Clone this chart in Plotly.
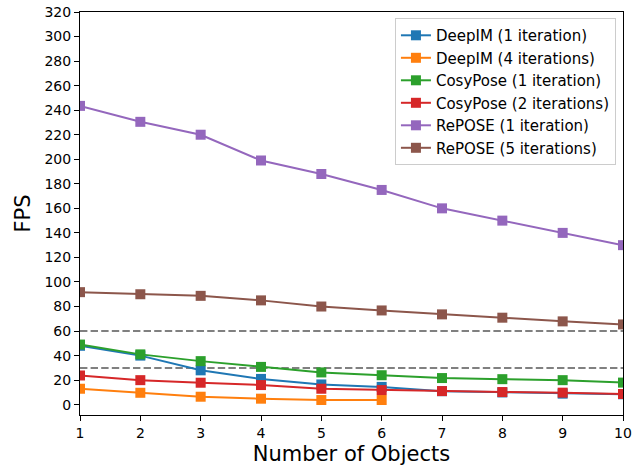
import plotly.graph_objects as go

objects = [1, 2, 3, 4, 5, 6, 7, 8, 9, 10]
deepim_1 = [48, 40, 28, 21, 16.5, 14.5, 11, 10, 9, 8.5]
deepim_4 = [13, 9.7, 6.5, 4.9, 3.8, 3.8]
cosypose_1 = [49, 41, 35.5, 30.8, 26.3, 24, 21.7, 20.8, 20, 18]
cosypose_2 = [23.8, 20, 17.9, 16, 13, 11.9, 11.1, 10.3, 9.8, 8.7]
repose_1 = [243.5, 230.5, 220, 199, 188, 175, 160, 150, 140, 130]
repose_5 = [91.7, 90, 88.7, 85, 80, 76.8, 73.6, 70.9, 67.9, 65.4]
ref_lines = [60, 30]

series = [
    ("DeepIM (1 iteration)", objects, deepim_1, "#1f77b4"),
    ("DeepIM (4 iterations)", objects[:len(deepim_4)], deepim_4, "#ff7f0e"),
    ("CosyPose (1 iteration)", objects, cosypose_1, "#2ca02c"),
    ("CosyPose (2 iterations)", objects, cosypose_2, "#d62728"),
    ("RePOSE (1 iteration)", objects, repose_1, "#9467bd"),
    ("RePOSE (5 iterations)", objects, repose_5, "#8c564b"),
]

fig = go.Figure()
for v in ref_lines:
    fig.add_trace(go.Scatter(x=[objects[0], objects[-1]], y=[v, v], mode="lines",
                             line=dict(color="#808080", width=2, dash="7.4px,3.2px"),
                             showlegend=False, hoverinfo="skip"))
for name, xs, ys, color in series:
    fig.add_trace(go.Scatter(x=xs, y=ys, mode="lines+markers", name=name,
                             line=dict(color=color, width=2),
                             marker=dict(symbol="square", size=10, color=color)))

axis_common = dict(showline=True, linecolor="black", linewidth=1, mirror=True,
                   ticks="outside", ticklen=5, tickwidth=1, tickcolor="black",
                   showgrid=False, zeroline=False, automargin=False,
                   tickfont=dict(family="DejaVu Sans", size=14, color="black"))

fig.update_xaxes(range=[1, 10], tickvals=objects, **axis_common,
                 title=dict(text="Number of Objects",
                            font=dict(family="DejaVu Sans", size=21, color="black"),
                            standoff=6))
fig.update_yaxes(range=[-8.4, 320], tickvals=list(range(0, 321, 20)), **axis_common,
                 title=dict(text="FPS",
                            font=dict(family="DejaVu Sans", size=21, color="black"),
                            standoff=8))

fig.update_layout(
    width=640, height=470,
    margin=dict(l=80, r=17, t=12, b=55),
    plot_bgcolor="white", paper_bgcolor="white",
    font=dict(family="DejaVu Sans", color="black"),
    legend=dict(x=0.987, y=0.985, xanchor="right", yanchor="top",
                bgcolor="white", bordercolor="#cccccc", borderwidth=1,
                font=dict(family="DejaVu Sans", size=15, color="black"),
                tracegroupgap=0),
)

fig.write_html("out.html", config={"displayModeBar": False},
               post_script="document.body.style.margin='0';document.body.style.overflow='hidden';")
